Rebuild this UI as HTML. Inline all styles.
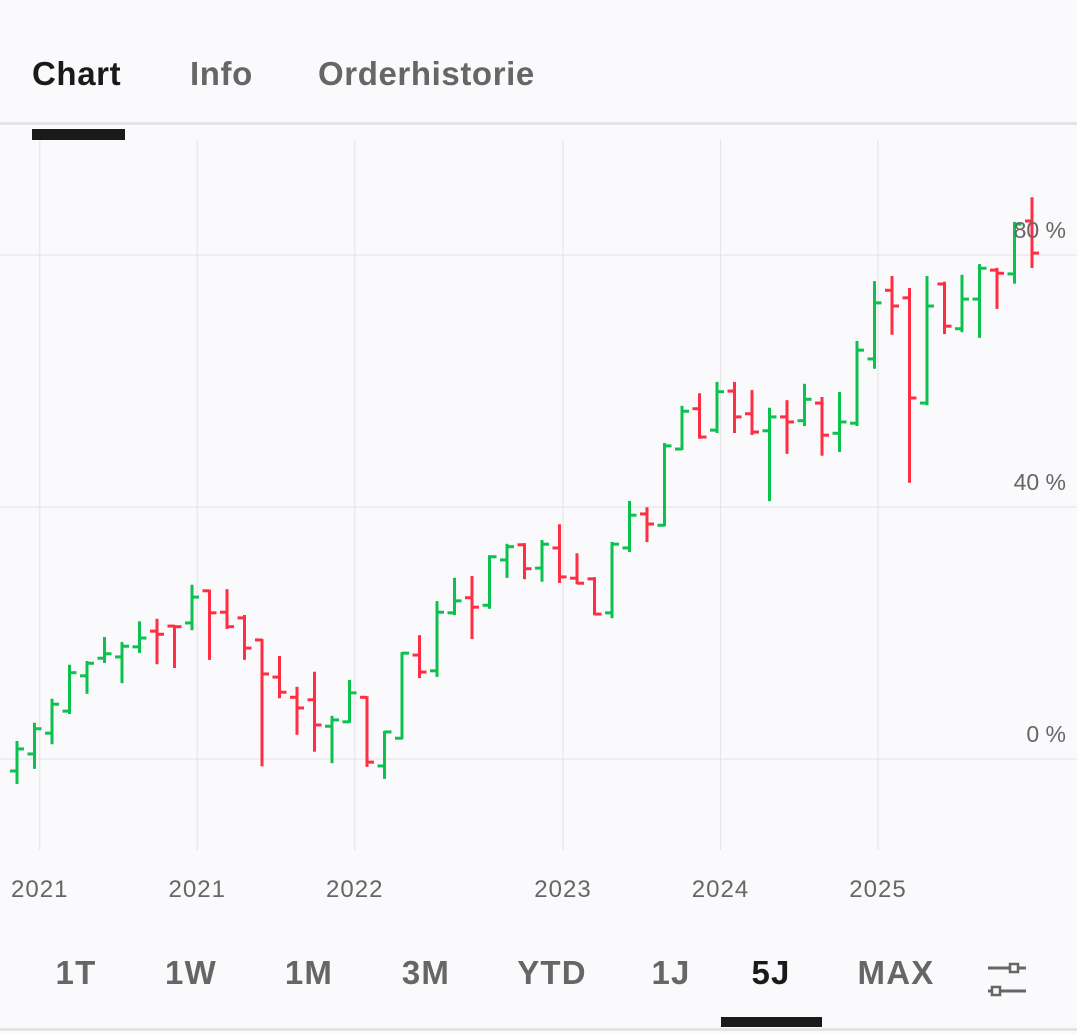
<!DOCTYPE html>
<html><head><meta charset="utf-8">
<style>
html,body{margin:0;padding:0;background:#fafafc;}
body{width:1077px;height:1034px;position:relative;overflow:hidden;font-family:"Liberation Sans",Arial,sans-serif;}
.tab{position:absolute;top:55px;font-size:33px;letter-spacing:0.6px;font-weight:bold;color:#666;}
.rng{position:absolute;top:954px;font-size:33px;letter-spacing:1.2px;font-weight:bold;color:#666;transform:translateX(-50%);}
</style></head>
<body>
<div class="tab" style="left:32px;color:#1a1a1a;">Chart</div>
<div class="tab" style="left:190px;">Info</div>
<div class="tab" style="left:318px;">Orderhistorie</div>
<div style="position:absolute;left:0;top:122px;width:1077px;height:3px;background:#e4e4e7;"></div>
<div style="position:absolute;left:32px;top:129px;width:93px;height:11px;background:#1a1a1a;"></div>

<svg id="chart" width="1077" height="940" style="position:absolute;left:0;top:0;"></svg>

<div class="rng" style="left:76px;">1T</div>
<div class="rng" style="left:191px;">1W</div>
<div class="rng" style="left:309px;">1M</div>
<div class="rng" style="left:426px;">3M</div>
<div class="rng" style="left:552px;">YTD</div>
<div class="rng" style="left:671px;">1J</div>
<div class="rng" style="left:771px;color:#1a1a1a;">5J</div>
<div class="rng" style="left:896px;">MAX</div>
<svg width="50" height="40" style="position:absolute;left:985px;top:960px;">
<line x1="3" y1="8" x2="41" y2="8" stroke="#666" stroke-width="3"/>
<rect x="25" y="4" width="8" height="8" fill="#fafafc" stroke="#666" stroke-width="2.5"/>
<line x1="3" y1="31" x2="41" y2="31" stroke="#666" stroke-width="3"/>
<rect x="7" y="27" width="8" height="8" fill="#fafafc" stroke="#666" stroke-width="2.5"/>
</svg>
<div style="position:absolute;left:721px;top:1017px;width:101px;height:10px;background:#1a1a1a;"></div>
<div style="position:absolute;left:0;top:1028px;width:1077px;height:3px;background:#e4e4e7;"></div>

<script>
const opens  = [-1.9,0.8,4.1,7.6,13.2,16.0,16.2,17.8,20.3,21.1,21.6,26.7,23.3,22.4,18.9,13.0,9.8,9.4,5.2,5.9,9.8,-1.1,3.3,16.5,14.0,23.2,25.6,24.4,31.6,34.0,30.3,33.5,28.7,28.6,23.2,33.5,38.9,37.1,49.2,55.6,52.2,58.4,54.8,52.1,54.3,53.7,56.5,51.7,53.3,63.5,74.4,73.2,56.5,75.4,68.3,73.0,77.6,77.0,85.4];
const highs  = [2.7,5.6,9.4,14.8,15.4,19.2,18.4,21.7,22.1,21.1,27.5,26.7,26.8,22.7,18.9,16.2,11.3,13.7,6.7,12.4,9.8,4.3,16.8,19.5,24.9,28.6,28.9,32.2,34.0,34.1,34.6,37.1,32.5,28.7,34.3,40.8,39.8,50.0,55.9,57.9,59.7,59.7,58.4,55.6,56.8,59.4,57.3,58.1,66.2,75.7,76.5,74.6,76.5,75.6,76.7,78.4,77.8,85.1,89.0];
const lows   = [-3.8,-1.4,2.5,7.3,10.5,15.4,12.2,17.0,15.2,14.6,20.6,15.9,20.8,15.9,-1.0,9.8,4.0,1.3,-0.5,5.9,-1.1,-3.0,3.3,13.0,13.2,23.0,19.2,24.0,28.9,28.7,28.3,28.1,27.9,23.0,22.5,33.0,34.6,37.1,49.2,51.0,51.9,51.9,51.6,41.1,48.6,53.0,48.3,48.9,53.0,62.1,67.5,44.0,56.3,67.6,67.9,67.0,71.6,75.6,78.1];
const closes = [1.6,4.8,8.7,13.7,15.2,16.7,17.9,19.2,19.8,21.0,25.7,23.2,21.0,17.6,13.5,10.6,8.1,5.4,6.2,10.5,-0.5,4.3,16.8,13.8,23.3,25.1,24.1,32.1,33.7,30.2,34.1,28.9,27.9,23.0,34.1,38.7,37.3,49.7,55.2,51.1,58.3,54.3,51.9,54.3,53.5,57.1,51.4,53.5,64.9,72.4,71.9,57.3,71.9,68.7,73.0,77.9,77.1,84.9,80.3];
const yTicks = [0,40,80];
const yTickLabels = ["0 %","40 %","80 %"];
const xGridIdx = [1.3,10.3,19.3,31.2,40.2,49.2];
const xLabels = ["2021","2021","2022","2023","2024","2025"];

const svg = document.getElementById('chart');
const NS = 'http://www.w3.org/2000/svg';
const x0 = 17, step = (1032-17)/58;
function xs(i){ return x0 + i*step; }
function ys(v){ return 759 - v*6.3; }
function mk(tag, attrs){ const e=document.createElementNS(NS,tag); for(const k in attrs) e.setAttribute(k,attrs[k]); svg.appendChild(e); return e; }

xGridIdx.forEach((g,i)=>{
  const l = mk('line',{x1:xs(g),x2:xs(g),y1:140,y2:850,stroke:'#e6e6ea','stroke-width':1.2});
  
  
  const t = mk('text',{x:xs(g),y:897,'text-anchor':'middle','font-size':24,'letter-spacing':1,fill:'#666','font-family':'Liberation Sans, sans-serif'});
  t.textContent = xLabels[i];
  
  
});
yTicks.forEach((v,i)=>{
  const l = mk('line',{x1:0,x2:1077,y1:ys(v),y2:ys(v),stroke:'#e6e6ea','stroke-width':1.2});
  
  
});
for(let i=0;i<opens.length;i++){
  const up = closes[i] >= opens[i];
  const c = up ? '#0cc24f' : '#ff2e42';
  const x = xs(i);
  const g = document.createElementNS(NS,'g'); svg.appendChild(g);
  
  
  const add=(a)=>{const e=document.createElementNS(NS,'line'); for(const k in a) e.setAttribute(k,a[k]); e.setAttribute('stroke',c); e.setAttribute('stroke-width',3); g.appendChild(e);};
  add({x1:x,x2:x,y1:ys(highs[i])-1,y2:ys(lows[i])+1});
  add({x1:x-7,x2:x,y1:ys(opens[i]),y2:ys(opens[i])});
  add({x1:x,x2:x+7,y1:ys(closes[i]),y2:ys(closes[i])});
}
yTicks.forEach((v,i)=>{
  const t = mk('text',{x:1066,y:ys(v)-17,'text-anchor':'end','font-size':23,fill:'#666','font-family':'Liberation Sans, sans-serif'});
  t.textContent = yTickLabels[i];
  
  
});
</script>
</body></html>
